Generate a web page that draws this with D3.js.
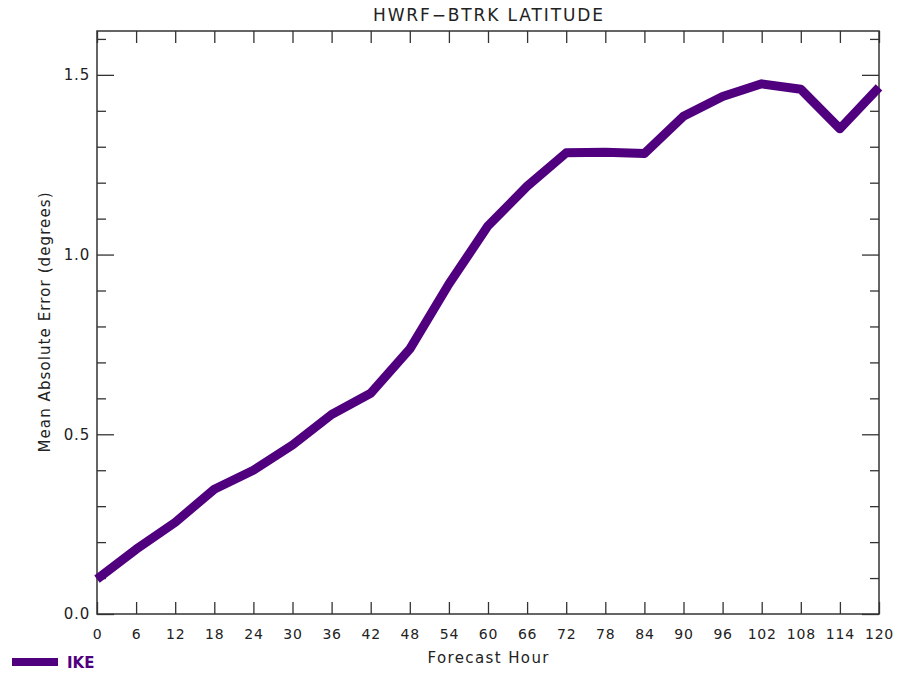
<!DOCTYPE html>
<html>
<head>
<meta charset="utf-8">
<script src="https://cdn.jsdelivr.net/npm/d3@7"></script>
<style>
  body { margin: 0; background: #fff; }
  svg text { font-family: "DejaVu Sans", sans-serif; fill: #222; }
</style>
</head>
<body>
<svg id="chart" width="900" height="676"></svg>
<script>
var chartTitle = "HWRF\u2212BTRK LATITUDE";
var stormName = "IKE";
var hours = [0, 6, 12, 18, 24, 30, 36, 42, 48, 54, 60, 66, 72, 78, 84, 90, 96, 102, 108, 114, 120];
var maeLat = [0.097, 0.18, 0.255, 0.347, 0.40, 0.47, 0.555, 0.614, 0.737, 0.918, 1.08, 1.19, 1.283, 1.285, 1.281,
              1.385, 1.44, 1.475, 1.46, 1.35, 1.465];
var yMajorTicks = [0.0, 0.5, 1.0, 1.5];
var yMinorTicks = [0.1, 0.2, 0.3, 0.4, 0.6, 0.7, 0.8, 0.9, 1.1, 1.2, 1.3, 1.4, 1.6];

var svg = d3.select("svg#chart");
var margin = {top: 31, right: 21, bottom: 62, left: 97};
var width = 900 - margin.left - margin.right;
var height = 676 - margin.top - margin.bottom;
var lineColor = "#50007e";

var translate = function(x, y) {
  return "translate(" + x + "," + y + ")";
};

var plot = svg.append("g").attr("transform", translate(margin.left, margin.top));

var x = d3.scaleLinear().domain([0, 120]).range([0, width]);
var y = d3.scaleLinear().domain([0, 1.622]).range([height, 0]);

// bottom axis with labels, ticks pointing in
var xAxis = d3.axisBottom(x).tickValues(hours).tickSize(-12).tickSizeOuter(0).tickPadding(15);
var xg = plot.append("g").attr("class", "axis").attr("transform", translate(0, height)).call(xAxis);

// top axis, ticks only
plot.append("g").attr("class", "axis")
  .call(d3.axisTop(x).tickValues(hours).tickSize(-12).tickSizeOuter(0).tickFormat(""));

var yAxis = d3.axisLeft(y).tickValues(yMajorTicks).tickSize(-17).tickSizeOuter(0)
  .tickPadding(7).tickFormat(d3.format(".1f"));
var yg = plot.append("g").attr("class", "axis").call(yAxis);
plot.append("g").attr("class", "axis")
  .call(d3.axisLeft(y).tickValues(yMinorTicks).tickSize(-9).tickSizeOuter(0).tickFormat(""));

plot.append("g").attr("class", "axis").attr("transform", translate(width, 0))
  .call(d3.axisRight(y).tickValues(yMajorTicks).tickSize(-17).tickSizeOuter(0).tickFormat(""));
plot.append("g").attr("class", "axis").attr("transform", translate(width, 0))
  .call(d3.axisRight(y).tickValues(yMinorTicks).tickSize(-9).tickSizeOuter(0).tickFormat(""));

svg.selectAll(".axis .domain").remove();
svg.selectAll(".axis line").attr("stroke", "#333").attr("stroke-width", 1.3);
xg.selectAll("text").style("font-size", "14px").style("letter-spacing", "0.8px").attr("fill", "#222");
yg.selectAll("text").style("font-size", "15px").style("letter-spacing", "0.8px").attr("fill", "#222");

plot.append("rect")
  .attr("width", width).attr("height", height)
  .attr("fill", "none").attr("stroke", "#333").attr("stroke-width", 1.5);

var line = d3.line()
  .x(function(d, i) { return x(hours[i]); })
  .y(function(d) { return y(d); });

plot.append("path")
  .datum(maeLat)
  .attr("d", line)
  .attr("fill", "none")
  .attr("stroke", lineColor)
  .attr("stroke-width", 9)
  .attr("stroke-linejoin", "round");

// titles
svg.append("text")
  .attr("x", margin.left + width / 2).attr("y", 21)
  .attr("text-anchor", "middle")
  .attr("textLength", 230).attr("lengthAdjust", "spacing")
  .style("font-size", "17px")
  .text(chartTitle);

svg.append("text")
  .attr("x", margin.left + width / 2).attr("y", 663)
  .attr("text-anchor", "middle")
  .attr("textLength", 121).attr("lengthAdjust", "spacing")
  .style("font-size", "15px")
  .text("Forecast Hour");

svg.append("text")
  .attr("transform", translate(50, margin.top + height / 2) + " rotate(-90)")
  .attr("text-anchor", "middle")
  .attr("textLength", 260).attr("lengthAdjust", "spacing")
  .style("font-size", "15px")
  .text("Mean Absolute Error (degrees)");

// legend
var legend = svg.append("g").attr("transform", translate(12, 662));
legend.append("line")
  .attr("x1", 0).attr("x2", 46).attr("y1", 0).attr("y2", 0)
  .attr("stroke", lineColor).attr("stroke-width", 8);
legend.append("text")
  .attr("x", 55).attr("y", 6)
  .style("font-size", "15px").style("font-weight", "bold")
  .style("fill", lineColor)
  .text(stormName);
</script>
</body>
</html>
